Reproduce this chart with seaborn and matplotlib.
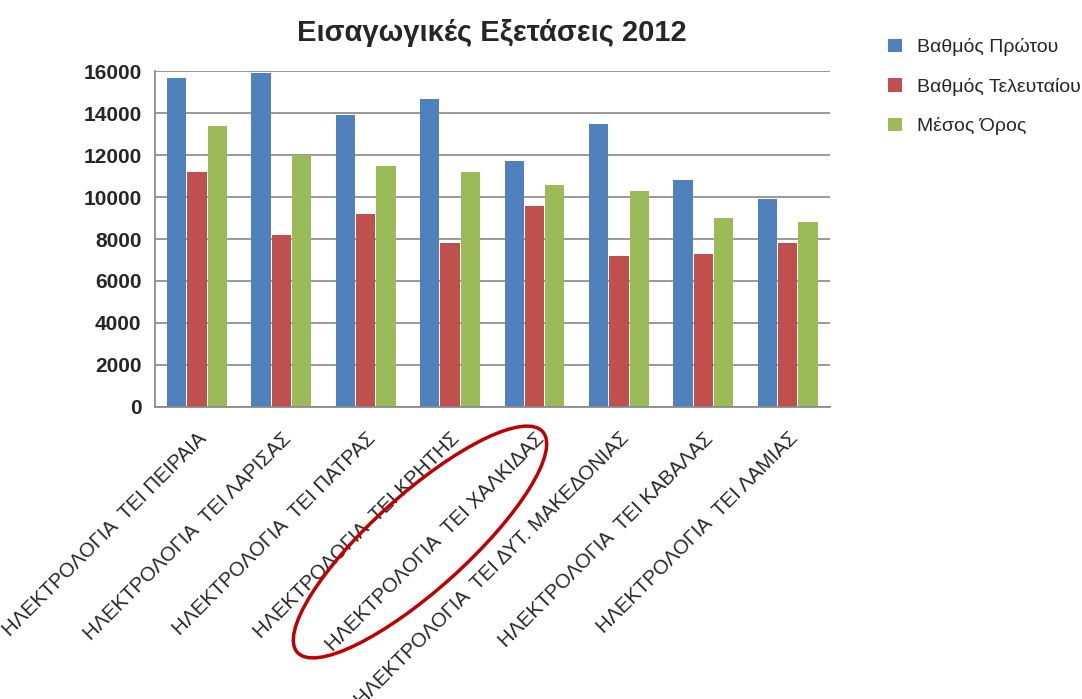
import pandas as pd
import seaborn as sns
import matplotlib.pyplot as plt
from matplotlib.patches import Ellipse

sns.set_theme(style='white')
plt.rcParams['font.family'] = ['Liberation Sans', 'DejaVu Sans']

# δεδομένα (εκτίμηση από το γράφημα)
schools = ['ΗΛΕΚΤΡΟΛΟΓΙΑ  ΤΕΙ ΠΕΙΡΑΙΑ', 'ΗΛΕΚΤΡΟΛΟΓΙΑ  ΤΕΙ ΛΑΡΙΣΑΣ',
           'ΗΛΕΚΤΡΟΛΟΓΙΑ  ΤΕΙ ΠΑΤΡΑΣ', 'ΗΛΕΚΤΡΟΛΟΓΙΑ  ΤΕΙ ΚΡΗΤΗΣ',
           'ΗΛΕΚΤΡΟΛΟΓΙΑ  ΤΕΙ ΧΑΛΚΙΔΑΣ', 'ΗΛΕΚΤΡΟΛΟΓΙΑ  ΤΕΙ ΔΥΤ. ΜΑΚΕΔΟΝΙΑΣ',
           'ΗΛΕΚΤΡΟΛΟΓΙΑ  ΤΕΙ ΚΑΒΑΛΑΣ', 'ΗΛΕΚΤΡΟΛΟΓΙΑ  ΤΕΙ ΛΑΜΙΑΣ']
first = [15700, 15900, 13900, 14700, 11700, 13500, 10800, 9900]
last = [11200, 8200, 9200, 7800, 9600, 7200, 7300, 7800]
mean = [13400, 12000, 11500, 11200, 10600, 10300, 9000, 8800]
series = ['Βαθμός Πρώτου', 'Βαθμός Τελευταίου', 'Μέσος Όρος']
colors = ['#4F81BD', '#C0504D', '#9BBB59']

df = pd.DataFrame({'school': schools * 3,
                   'value': first + last + mean,
                   'series': [s for s in series for _ in schools]})

fig = plt.figure(figsize=(10.82, 6.99), dpi=100)
ax = fig.add_axes([0.143, 0.418, 0.624, 0.48])
sns.barplot(data=df, x='school', y='value', hue='series', palette=colors,
            ax=ax, width=0.72, gap=0.05, edgecolor='none', saturation=1)

ax.set_ylim(0, 16000)
ax.set_yticks(range(0, 16001, 2000))
ax.yaxis.grid(True, color='#888888', linewidth=1.2)
ax.set_axisbelow(True)
for s in ['top', 'right']:
    ax.spines[s].set_visible(False)
ax.spines['left'].set_color('#888888')
ax.spines['bottom'].set_color('#888888')
ax.set_xlabel('')
ax.set_ylabel('')
for lbl in ax.get_yticklabels():
    lbl.set_fontweight('bold')
    lbl.set_fontsize(15)
ax.set_xticks(range(len(schools)))
ax.set_xticklabels(schools, rotation=45, ha='right', rotation_mode='anchor', fontsize=14.5)
ax.tick_params(axis='x', pad=10)
ax.set_title('Εισαγωγικές Εξετάσεις 2012', fontsize=21, fontweight='bold', pad=22)

ax.legend(loc='upper left', bbox_to_anchor=(1.06, 1.15), frameon=False,
          fontsize=14, labelspacing=1.1, handlelength=0.7, handleheight=0.7)

# κόκκινη έλλειψη γύρω από τη Χαλκίδα
ell = Ellipse((4.2, 1.57), 3.3, 0.95, angle=42, fill=False, edgecolor='#C00000',
              linewidth=2.5, transform=fig.dpi_scale_trans)
fig.patches.append(ell)

fig.savefig('out.png', dpi=100)
